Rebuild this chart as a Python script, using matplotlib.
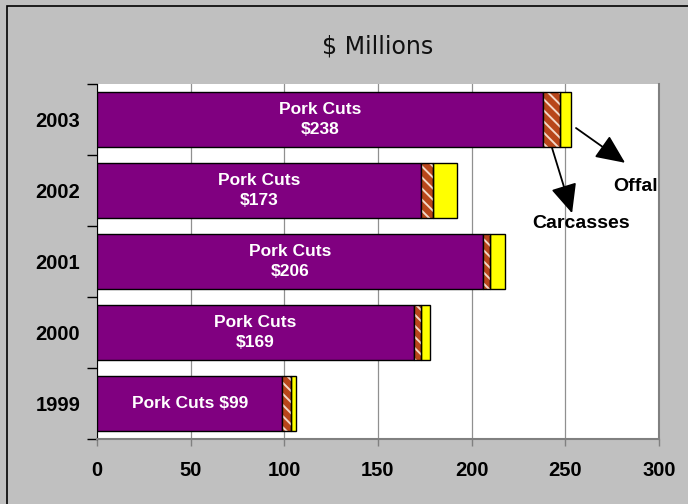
import matplotlib
matplotlib.use('Agg')
import matplotlib.pyplot as plt
from matplotlib.patches import Rectangle

years = ['1999', '2000', '2001', '2002', '2003']
pork = [99, 169, 206, 173, 238]
carcasses = [4.3, 4, 4, 6.4, 9]
offal = [2.8, 4.5, 8, 12.8, 6]
pork_labels = ['Pork Cuts $99', 'Pork Cuts\n$169', 'Pork Cuts\n$206',
               'Pork Cuts\n$173', 'Pork Cuts\n$238']
xticks = [0, 50, 100, 150, 200, 250, 300]

plt.rcParams['font.family'] = ['Liberation Sans', 'DejaVu Sans']
plt.rcParams['hatch.linewidth'] = 1.4

W, H = 688, 504
fig = plt.figure(figsize=(W / 100, H / 100), dpi=100, facecolor='#C0C0C0')
ax = fig.add_axes([97 / W, 1 - 439 / H, (659 - 97) / W, (439 - 84) / H])
ax.set_facecolor('white')

y = list(range(len(years)))
h = 0.775
left2 = [p + c for p, c in zip(pork, carcasses)]

ax.barh(y, pork, height=h, color='#800080', edgecolor='black', linewidth=1, zorder=3)
ax.barh(y, carcasses, left=pork, height=h, color='#B8461A', edgecolor='none', zorder=3)
ax.barh(y, carcasses, left=pork, height=h, facecolor='none', edgecolor='#F4D8C8',
        hatch='\\\\\\', linewidth=0, zorder=4)
ax.barh(y, carcasses, left=pork, height=h, facecolor='none', edgecolor='black',
        linewidth=1, zorder=5)
ax.barh(y, offal, left=left2, height=h, color='#FFFF00', edgecolor='black', linewidth=1, zorder=3)

for yi, p, lab in zip(y, pork, pork_labels):
    ax.text(p / 2, yi, lab, ha='center', va='center', color='white',
            fontsize=12.5, fontweight='bold', linespacing=1.35, zorder=6)

ax.set_xlim(0, 300)
ax.set_ylim(-0.5, 4.5)
ax.set_xticks(xticks)
ax.set_xticklabels([str(t) for t in xticks], fontsize=14.5, fontweight='bold')
ax.set_yticks(y)
ax.set_yticklabels(years, fontsize=14.5, fontweight='bold')
ax.set_yticks([i - 0.5 for i in range(len(years) + 1)], minor=True)
ax.tick_params(axis='y', which='major', length=0, pad=12)
ax.tick_params(axis='y', which='minor', length=7, color='black', width=1)
ax.tick_params(axis='x', length=5, color='#808080', width=1, pad=11)
ax.grid(axis='x', color='#909090', linewidth=0.9, zorder=1)
ax.set_axisbelow(True)

ax.spines['top'].set_visible(False)
ax.spines['left'].set_color('black')
ax.spines['right'].set_color('#808080')
ax.spines['right'].set_linewidth(1.5)
ax.spines['bottom'].set_color('#808080')
ax.spines['bottom'].set_linewidth(1.5)

ax.set_title('$ Millions', fontsize=17, family='DejaVu Sans', color='#111111', pad=22)

arrow = dict(arrowstyle='-|>,head_length=1.0,head_width=0.45', color='black',
             lw=1.3, mutation_scale=18, shrinkA=0, shrinkB=0)
ax.annotate('', xy=(281.9, 3.39), xytext=(255.7, 3.88), arrowprops=arrow,
            annotation_clip=False, zorder=7)
ax.annotate('', xy=(253.6, 2.68), xytext=(242.9, 3.6), arrowprops=arrow,
            annotation_clip=False, zorder=7)
ax.text(287.5, 3.06, 'Offal', ha='center', va='center', fontsize=14,
        fontweight='bold', zorder=7, clip_on=True)
ax.text(258.4, 2.53, 'Carcasses', ha='center', va='center', fontsize=14,
        fontweight='bold', zorder=7)

fig.patches.append(Rectangle((7 / W, -0.05), 1.2, 1 - 6 / H + 0.05, fill=False,
                             edgecolor='black', linewidth=1.2,
                             transform=fig.transFigure, figure=fig))

fig.savefig('out.png', dpi=100, facecolor=fig.get_facecolor())
